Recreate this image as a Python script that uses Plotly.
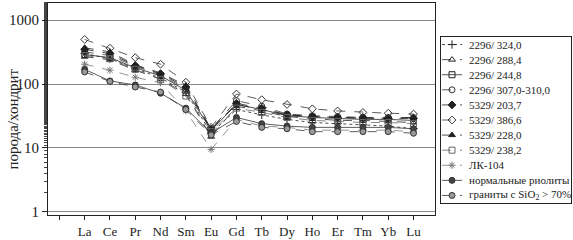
import plotly.graph_objects as go

elements = ["La", "Ce", "Pr", "Nd", "Sm", "Eu", "Gd", "Tb", "Dy", "Ho", "Er", "Tm", "Yb", "Lu"]

names = ["2296/ 324,0", "2296/ 288,4", "2296/ 244,8", "2296/ 307,0-310,0",
         "5329/ 203,7", "5329/ 386,6", "5329/ 228,0", "5329/ 238,2",
         "ЛК-104", "нормальные риолиты", "граниты с SiO<sub>2</sub> > 70%"]

s_2296_324 = [300, 250, 175, 125, 75, 17, 40, 33, 28, 25, 24, 23, 22, 20]
s_2296_288 = [270, 240, 165, 120, 70, 15, 45, 38, 31, 29, 27, 27, 26, 25]
s_2296_244 = [290, 260, 180, 135, 80, 19, 48, 40, 32, 30, 29, 28, 28, 27]
s_2296_307 = [320, 280, 190, 140, 85, 20, 55, 45, 34, 32, 31, 30, 30, 30]
s_5329_203 = [350, 300, 195, 145, 90, 19, 50, 42, 33, 31, 30, 30, 29, 29]
s_5329_386 = [500, 365, 260, 205, 107, 21, 70, 57, 48, 41, 38, 36, 35, 34]
s_5329_228 = [370, 320, 200, 150, 95, 20, 48, 40, 33, 31, 30, 29, 29, 30]
s_5329_238 = [280, 250, 170, 118, 65, 18, 42, 36, 30, 27, 26, 25, 25, 24]
s_lk104 = [205, 165, 128, 105, 38, 9.5, 28, 22, 21, 19, 19, 19, 19, 18]
s_rhyolite = [170, 112, 97, 72, 42, 17, 30, 24, 22, 21, 21, 21, 21, 20]
s_granite = [155, 110, 90, 75, 40, 16, 26, 21, 20, 18, 18, 18, 18, 17]

series = [s_2296_324, s_2296_288, s_2296_244, s_2296_307, s_5329_203, s_5329_386,
          s_5329_228, s_5329_238, s_lk104, s_rhyolite, s_granite]

styles = [
    dict(symbol="cross-thin", dash="dot", color="#222", fill="#222"),
    dict(symbol="triangle-up-open", dash="dash", color="#222", fill="#222"),
    dict(symbol="square-open", dash="solid", color="#222", fill="#222"),
    dict(symbol="circle-open", dash="dash", color="#333", fill="#333"),
    dict(symbol="diamond", dash="dash", color="#222", fill="#222"),
    dict(symbol="diamond-open", dash="dash", color="#333", fill="#333"),
    dict(symbol="triangle-up", dash="dash", color="#222", fill="#222"),
    dict(symbol="square-open", dash="dash", color="#666", fill="#666"),
    dict(symbol="asterisk-open", dash="dash", color="#777", fill="#777"),
    dict(symbol="circle", dash="solid", color="#333", fill="#444"),
    dict(symbol="circle", dash="dash", color="#333", fill="#999"),
]

xpos = list(range(len(elements)))

W, H = 573, 240
ML, MR, MT, MB = 48, 2, 3, 25
plot_w = W - ML - MR
plot_h = H - MT - MB
main_right = 435
leg_left, leg_right, leg_top, leg_bot = 441, 571, 37, 203

fig = go.Figure()
for name, vals, st in zip(names, series, styles):
    fig.add_trace(go.Scatter(
        x=xpos, y=vals, name=name, mode="lines+markers", showlegend=False,
        line=dict(color=st["color"], width=0.8, dash=st["dash"]),
        marker=dict(symbol=st["symbol"], size=6, color=st["fill"],
                    line=dict(color=st["color"], width=1)),
        xaxis="x", yaxis="y",
    ))

# custom legend drawn in its own small axes
n = len(names)
for i, (name, st) in enumerate(zip(names, styles)):
    row = i + 1
    fig.add_trace(go.Scatter(
        x=[1, 21], y=[row, row], mode="lines", showlegend=False, hoverinfo="skip",
        line=dict(color=st["color"], width=0.8, dash=st["dash"]),
        xaxis="x2", yaxis="y2"))
    fig.add_trace(go.Scatter(
        x=[11], y=[row], mode="markers", showlegend=False, hoverinfo="skip",
        marker=dict(symbol=st["symbol"], size=6, color=st["fill"],
                    line=dict(color=st["color"], width=1)),
        xaxis="x2", yaxis="y2"))
    fig.add_annotation(text=name, x=26, y=row, xref="x2", yref="y2",
                       xanchor="left", yanchor="middle", showarrow=False,
                       font=dict(size=11, family="Liberation Serif", color="#222"))

fig.update_layout(
    width=W, height=H,
    margin=dict(l=ML, r=MR, t=MT, b=MB, autoexpand=False),
    paper_bgcolor="white", plot_bgcolor="white",
    font=dict(family="Liberation Serif", color="#222"),
    showlegend=False,
    xaxis=dict(domain=[0, (main_right - ML) / plot_w],
               range=[-1.45, 13.85], tickvals=xpos,
               ticktext=elements, ticks="outside", ticklen=4,
               tickcolor="#222", showgrid=False, zeroline=False, automargin=False,
               showline=True, linecolor="#222", linewidth=1, mirror=True,
               minor=dict(tickvals=[-1], ticks="outside", ticklen=4,
                          tickcolor="#222", showgrid=False),
               tickfont=dict(size=13, family="Liberation Serif")),
    yaxis=dict(type="log", range=[-0.05, 3.27], tickvals=[1, 10, 100, 1000],
               ticktext=["1", "10", "100", "1000"], ticks="outside", ticklen=5,
               tickcolor="#222", showgrid=True, gridcolor="#888", gridwidth=1,
               showline=True, linecolor="#222", linewidth=1, mirror=True,
               zeroline=False, automargin=False,
               minor=dict(ticks="outside", ticklen=3, tickcolor="#444", showgrid=False),
               tickfont=dict(size=15, family="Liberation Serif")),
    xaxis2=dict(domain=[(leg_left - ML) / plot_w, (leg_right - ML) / plot_w],
                range=[0, leg_right - leg_left], anchor="y2",
                showgrid=False, zeroline=False, showticklabels=False, ticks="",
                showline=True, linecolor="#222", linewidth=1, mirror=True,
                fixedrange=True, automargin=False),
    yaxis2=dict(domain=[(MT + plot_h - leg_bot) / plot_h, (MT + plot_h - leg_top) / plot_h],
                range=[n + 0.5, 0.5], anchor="x2",
                showgrid=False, zeroline=False, showticklabels=False, ticks="",
                showline=True, linecolor="#222", linewidth=1, mirror=True,
                fixedrange=True, automargin=False),
)
fig.add_annotation(text="порода/хондрит", xref="paper", yref="paper",
                   x=-(ML - 13) / plot_w, y=0.45, xanchor="center", yanchor="middle",
                   textangle=-90, showarrow=False,
                   font=dict(size=15, family="Liberation Serif", color="#222"))

fig.write_html("out.html", config={"displayModeBar": False},
               post_script="document.body.style.margin='0';")
